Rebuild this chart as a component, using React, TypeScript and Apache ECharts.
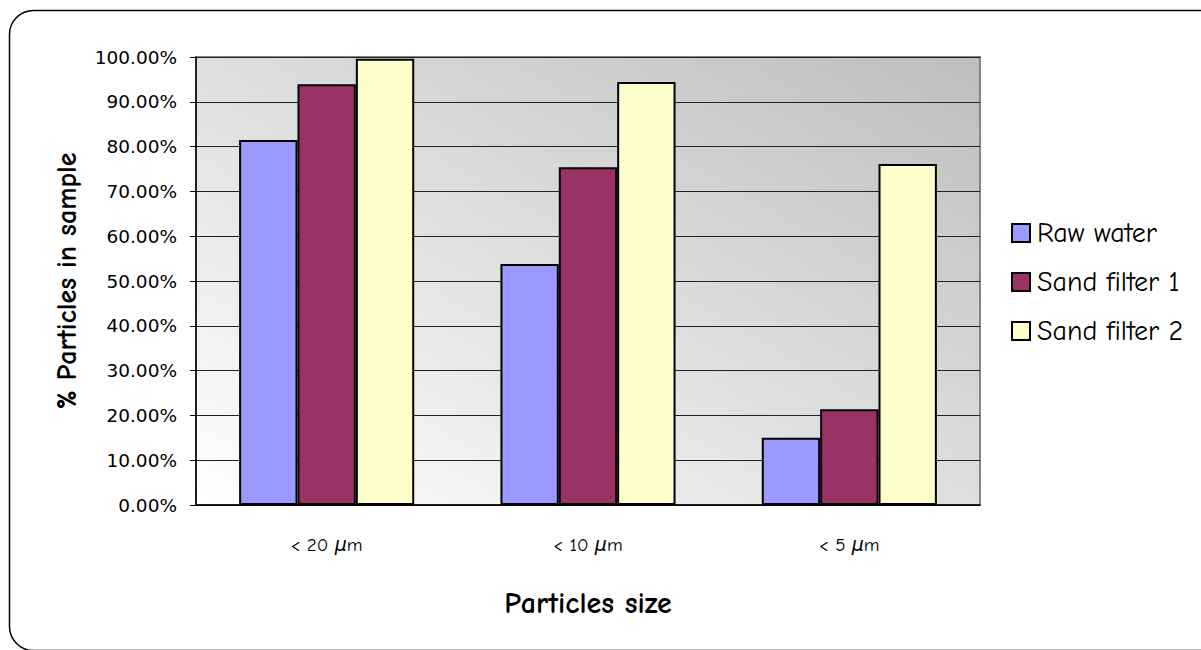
import React, { useEffect, useRef } from "react";
import * as echarts from "echarts";

const categories = ["< 20 μm", "< 10 μm", "< 5 μm"];
const rawWater = [81.5, 53.8, 15.0];
const sandFilter1 = [93.9, 75.4, 21.4];
const sandFilter2 = [99.6, 94.4, 76.1];
const seriesNames = ["Raw water", "Sand filter 1", "Sand filter 2"];
const seriesColors = ["#9999ff", "#993366", "#ffffcc"];

const comic = '"Comic Sans MS", "Comic Neue", "DejaVu Sans", sans-serif';
const tahoma = 'Tahoma, "DejaVu Sans", sans-serif';

export default function App() {
  const ref = useRef<HTMLDivElement>(null);
  useEffect(() => {
    if (!ref.current) return;
    const chart = echarts.init(ref.current, undefined, { renderer: "svg" });
    const data = [rawWater, sandFilter1, sandFilter2];
    const renderLabel = (v: string) => {
      const m = v.match(/^(.*?)(μ)(m)$/);
      if (!m) return v;
      return m[1] + "{mu|μ}" + m[3];
    };
    chart.setOption({
      animation: false,
      backgroundColor: "#ffffff",
      graphic: [
        {
          type: "rect",
          z: -10,
          shape: { x: 9.5, y: 10.5, width: 1220, height: 640, r: 24 },
          style: { fill: "none", stroke: "#000", lineWidth: 1.5 },
          silent: true,
        },
      ],
      grid: {
        left: 196,
        top: 57,
        width: 784,
        height: 448,
        show: true,
        backgroundColor: new echarts.graphic.LinearGradient(0, 1, 1, 0, [
          { offset: 0, color: "#ffffff" },
          { offset: 1, color: "#bdbdbd" },
        ]),
        borderColor: "#858585",
        borderWidth: 2,
      },
      legend: {
        orient: "vertical",
        left: 1011,
        top: 219,
        padding: 0,
        itemWidth: 18,
        itemHeight: 18,
        itemGap: 21,
        icon: "rect",
        textStyle: { fontFamily: comic, fontSize: 28, color: "#000", padding: [0, 0, 0, 2] },
        data: seriesNames,
      },
      xAxis: {
        type: "category",
        data: categories,
        axisLine: { lineStyle: { color: "#000", width: 1.5 } },
        axisTick: { length: 7, lineStyle: { color: "#000" } },
        axisLabel: {
          margin: 30,
          fontFamily: comic,
          fontSize: 19,
          color: "#000",
          formatter: renderLabel,
          rich: { mu: { fontStyle: "italic", fontFamily: comic, fontSize: 19, color: "#000" } },
        },
        name: "Particles size",
        nameLocation: "middle",
        nameGap: 83,
        nameTextStyle: { fontFamily: comic, fontSize: 30, fontWeight: "bold", color: "#000" },
      },
      yAxis: {
        type: "value",
        min: 0,
        max: 100,
        interval: 10,
        axisLine: { show: true, lineStyle: { color: "#000", width: 1.5 } },
        axisTick: { show: true, length: 6, lineStyle: { color: "#000" } },
        splitLine: { lineStyle: { color: "#222", width: 1 } },
        axisLabel: {
          margin: 19,
          fontFamily: tahoma,
          fontSize: 18.5,
          color: "#000",
          formatter: (v: number) => v.toFixed(2) + "%",
        },
        name: "% Particles in sample",
        nameLocation: "middle",
        nameGap: 115,
        nameRotate: 90,
        nameTextStyle: { fontFamily: comic, fontSize: 28, fontWeight: "bold", color: "#000" },
      },
      series: seriesNames.map((name, i) => ({
        name,
        type: "bar",
        data: data[i],
        barGap: "0%",
        barCategoryGap: "33%",
        itemStyle: { color: seriesColors[i], borderColor: "#000", borderWidth: 2 },
      })),
    });
    return () => chart.dispose();
  }, []);
  return (
    <div
      ref={ref}
      style={{ position: "fixed", left: 0, top: 0, width: 1201, height: 650 }}
    />
  );
}
